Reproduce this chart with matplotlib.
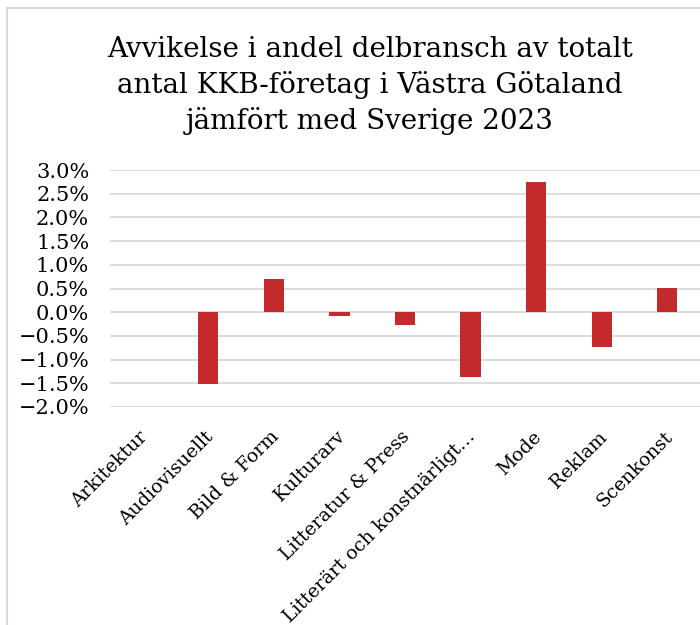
import matplotlib.pyplot as plt
import matplotlib.transforms as mtransforms
from matplotlib.lines import Line2D
from matplotlib.ticker import PercentFormatter, MultipleLocator

# avvikelse i andel (procentenheter)
delbranscher = [
    "Arkitektur", "Audiovisuellt", "Bild & Form", "Kulturarv",
    "Litteratur & Press", "Litterärt och konstnärligt…", "Mode",
    "Reklam", "Scenkonst",
]
avvikelse = [0.0, -1.52, 0.70, -0.08, -0.28, -1.36, 2.74, -0.74, 0.51]

titel = ("Avvikelse i andel delbransch av totalt\n"
         "antal KKB-företag i Västra Götaland\n"
         "jämfört med Sverige 2023")

W, H = 700, 625
fig = plt.figure(figsize=(W / 100, H / 100), dpi=100)
plt.rcParams["font.family"] = ["DejaVu Serif"]

ax = fig.add_axes([110 / W, 1 - 407 / H, (700 - 110) / W, (407 - 170) / H])
x = list(range(len(delbranscher)))
ax.bar(x, [v / 100 for v in avvikelse], width=0.31, color="#C4292C",
       zorder=3)

ax.set_xlim(-0.5, len(delbranscher) - 0.5)
ax.set_ylim(-0.02, 0.03)
ax.yaxis.set_major_locator(MultipleLocator(0.005))
ax.yaxis.set_major_formatter(PercentFormatter(1.0, decimals=1))
ax.grid(axis="y", color="#D9D9D9", linewidth=1.3, zorder=0)
for s in ax.spines.values():
    s.set_visible(False)
ax.tick_params(axis="both", length=0, labelsize=15, colors="black")
ax.tick_params(axis="y", pad=15)
ax.tick_params(axis="x", pad=15)

ax.set_xticks(x)
ax.set_xticklabels(delbranscher, rotation=45, ha="right",
                   rotation_mode="anchor", fontsize=13.6)
offset = mtransforms.ScaledTranslation(-4 / 100, 0, fig.dpi_scale_trans)
for lbl in ax.get_xticklabels():
    lbl.set_transform(lbl.get_transform() + offset)

fig.text(370 / W, 1 - 36 / H, titel, ha="center", va="top", fontsize=20,
         linespacing=1.36)

# ram runt diagrammet
fig.add_artist(Line2D([6.5 / W, 6.5 / W], [0, 1 - 7.5 / H],
                      transform=fig.transFigure, color="#D9D9D9", lw=1.5))
fig.add_artist(Line2D([6.5 / W, 1], [1 - 7.5 / H, 1 - 7.5 / H],
                      transform=fig.transFigure, color="#D9D9D9", lw=1.5))

fig.savefig("out.png", dpi=100)
